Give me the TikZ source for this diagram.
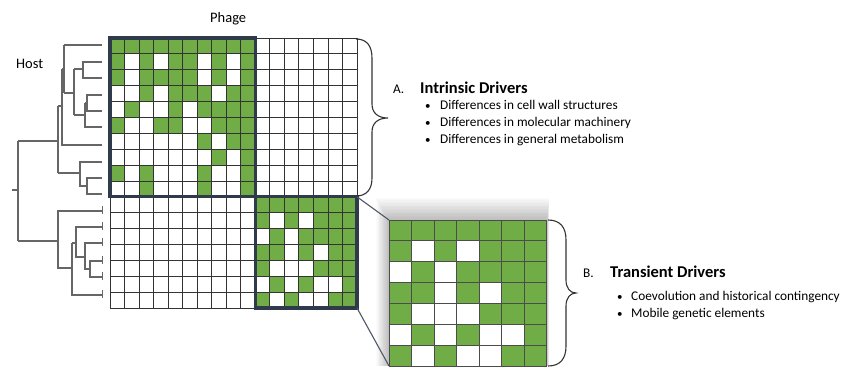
\documentclass[tikz,border=0pt]{standalone}
\usepackage{fontspec}
\setmainfont{Carlito}
\definecolor{gr}{HTML}{70AD47}
\definecolor{navy}{HTML}{2F3A4A}
\definecolor{gline}{HTML}{333333}
\definecolor{treec}{HTML}{666666}
\tikzset{
  treeline/.style={draw=treec, line width=1.3pt},
  gridline/.style={draw=gline, line width=0.8pt},
  blockborder/.style={draw=navy, line width=3.2pt},
  zoomline/.style={draw=navy!85, line width=1.1pt},
  bracestyle/.style={draw=black!80, line width=1.1pt},
  txt/.style={inner sep=0pt, anchor=base west, font=\fontsize{13.3}{16}\selectfont},
  bul/.style={inner sep=0pt, anchor=base west, font=\fontsize{11}{13}\selectfont},
  ttl/.style={inner sep=0pt, anchor=base west, font=\fontsize{16.5}{19}\selectfont\bfseries},
  lbl/.style={inner sep=0pt, anchor=base west, font=\fontsize{14.5}{17}\selectfont},
}
\begin{document}
\begin{tikzpicture}[x=1pt,y=-1pt]
\useasboundingbox (0,0) rectangle (842,368);
\fill[white] (0,0) rectangle (842,368);

% ---------- main 17x17 grid ----------
\def\gx{110}\def\gy{38}\def\cw{14.53}\def\rh{15.88}
% top-left 10x10 block
\foreach \r/\cs in {1/{1,2,3,4,5,6,7,8,9,10},2/{1,3,5,6,8,10},3/{1,3,4,5,6,8,10},
  4/{3,5,6,7,9,10},5/{2,5,7,8,9,10},6/{1,4,5,8,9,10},7/{7,9,10},8/{8,10},9/{1,3,7,10},10/{3,7,10}}{
  \foreach \c in \cs {
    \fill[gr] ({\gx+(\c-1)*\cw},{\gy+(\r-1)*\rh}) rectangle ++(\cw,\rh);
  }
}
% bottom-right 7x7 block
\foreach \r/\cs in {1/{1,2,3,4,5,6,7},2/{1,3,5,6,7},3/{2,4,5,6,7},4/{1,2,4,6,7},
  5/{1,5,6,7},6/{2,4,7},7/{1,3,6,7}}{
  \foreach \c in \cs {
    \fill[gr] ({\gx+(\c+9)*\cw},{\gy+(\r+9)*\rh}) rectangle ++(\cw,\rh);
  }
}
\foreach \i in {0,...,17}{
  \draw[gridline] ({\gx+\i*\cw},\gy) -- ({\gx+\i*\cw},{\gy+17*\rh});
  \draw[gridline] (\gx,{\gy+\i*\rh}) -- ({\gx+17*\cw},{\gy+\i*\rh});
}
\coordinate (A1) at (\gx,\gy);
\coordinate (A2) at ({\gx+10*\cw},{\gy+10*\rh});
\coordinate (B1) at ({\gx+10*\cw},{\gy+10*\rh});
\coordinate (B2) at ({\gx+17*\cw},{\gy+17*\rh});
\draw[blockborder] (A1) rectangle (A2);
\draw[blockborder] (B1) rectangle (B2);
\coordinate (Btr) at ({\gx+17*\cw},{\gy+10*\rh});

% ---------- inset ----------
\def\ix{389}\def\iy{220}\def\icw{22.57}\def\irh{20.86}
\foreach \k in {1,...,16}{
  \fill[black,opacity=0.016] ({\ix-0.8*\k},{\iy-1.4*\k}) rectangle ({\ix+7*\icw+0.15*\k},{\iy+7*\irh});
}
\fill[white] (\ix,\iy) rectangle ++({7*\icw},{7*\irh});
\foreach \r/\cs in {1/{1,2,3,4,5,6,7},2/{1,3,5,6,7},3/{2,4,5,6,7},4/{1,2,4,6,7},
  5/{1,5,6,7},6/{2,4,7},7/{1,3,6,7}}{
  \foreach \c in \cs {
    \fill[gr] ({\ix+(\c-1)*\icw},{\iy+(\r-1)*\irh}) rectangle ++(\icw,\irh);
  }
}
\foreach \i in {0,...,7}{
  \draw[draw=black!70, line width=1pt] ({\ix+\i*\icw},\iy) -- ({\ix+\i*\icw},{\iy+7*\irh});
  \draw[draw=black!70, line width=1pt] (\ix,{\iy+\i*\irh}) -- ({\ix+7*\icw},{\iy+\i*\irh});
}
\coordinate (Itl) at (\ix,\iy);
\coordinate (Ibl) at (\ix,{\iy+7*\irh});
\draw[zoomline] (Btr) -- (Itl);
\draw[zoomline] (B2) -- (Ibl);

% ---------- braces ----------
\draw[bracestyle] (356,39) .. controls (366,39) and (372,45) .. (372,58) -- (372,104)
  .. controls (372,113) and (378,118) .. (388,118) .. controls (378,118) and (372,123) .. (372,132)
  -- (372,178) .. controls (372,190) and (366,196) .. (356,196);
\draw[bracestyle] (548,220) .. controls (560,220) and (566,227) .. (566,240) -- (566,280)
  .. controls (566,288) and (570,293) .. (576,293) .. controls (570,293) and (566,298) .. (566,306)
  -- (566,346) .. controls (566,359) and (560,366) .. (548,366);

% ---------- texts ----------
\node[lbl] (phage) at (210,22) {Phage};
\node[lbl] (host) at (16,68) {Host};
\node[txt] (Alab) at (393,93.5) {A.};
\node[ttl] (Attl) at (420,93.5) {Intrinsic Drivers};
\node[bul] (Ab1) at (425,109.5) {•};
\node[txt] (At1) at (440,109.5) {Differences in cell wall structures};
\node[bul] (Ab2) at (425,126.5) {•};
\node[txt] (At2) at (440,126.5) {Differences in molecular machinery};
\node[bul] (Ab3) at (425,143.5) {•};
\node[txt] (At3) at (440,143.5) {Differences in general metabolism};
\node[txt] (Blab) at (583,277.5) {B.};
\node[ttl] (Bttl) at (610,277.5) {Transient Drivers};
\node[bul] (Bb1) at (617,300.5) {•};
\node[txt] (Bt1) at (631,300.5) {Coevolution and historical contingency};
\node[bul] (Bb2) at (617,317) {•};
\node[txt] (Bt2) at (631,317) {Mobile genetic elements};

% ---------- dendrogram ----------
\draw[treeline] (12,190) -- (18,190);
\draw[treeline] (18,141) -- (18,241);
\draw[treeline] (18,141) -- (58,141);
\draw[treeline] (58,106) -- (58,173);
\draw[treeline] (58,106) -- (62,106);
\draw[treeline] (62,69) -- (62,145) -- (102,145);
\draw[treeline] (62,69) -- (64,69);
\draw[treeline] (64,45) -- (64,93);
\draw[treeline] (64,45) -- (102,45);
\draw[treeline] (64,93) -- (74,93);
\draw[treeline] (74,69) -- (74,115);
\draw[treeline] (74,69) -- (83,69);
\draw[treeline] (102,62) -- (83,62) -- (83,78) -- (102,78);
\draw[treeline] (74,115) -- (85,115);
\draw[treeline] (85,103) -- (85,127) -- (102,127);
\draw[treeline] (85,103) -- (87,103);
\draw[treeline] (102,95) -- (87,95) -- (87,111) -- (102,111);
\draw[treeline] (58,173) -- (80,173);
\draw[treeline] (102,162) -- (80,162) -- (80,186) -- (87,186);
\draw[treeline] (102,178) -- (87,178) -- (87,194) -- (102,194);
% lower tree
\draw[treeline] (18,241) -- (58,241);
\draw[treeline] (102,211) -- (58,211) -- (58,268) -- (72,268);
\draw[treeline] (72,243) -- (72,295) -- (102,295);
\draw[treeline] (72,243) -- (76,243);
\draw[treeline] (102,227) -- (76,227) -- (76,257) -- (85,257);
\draw[treeline] (102,243) -- (85,243) -- (85,269) -- (90,269);
\draw[treeline] (102,261) -- (90,261) -- (90,277) -- (102,277);
\foreach \y in {211,227,243,261,277,295}{
  \draw[draw=treec, line width=1pt] (102.5,{\y-5}) -- (102.5,{\y+3});
}
\end{tikzpicture}
\end{document}
